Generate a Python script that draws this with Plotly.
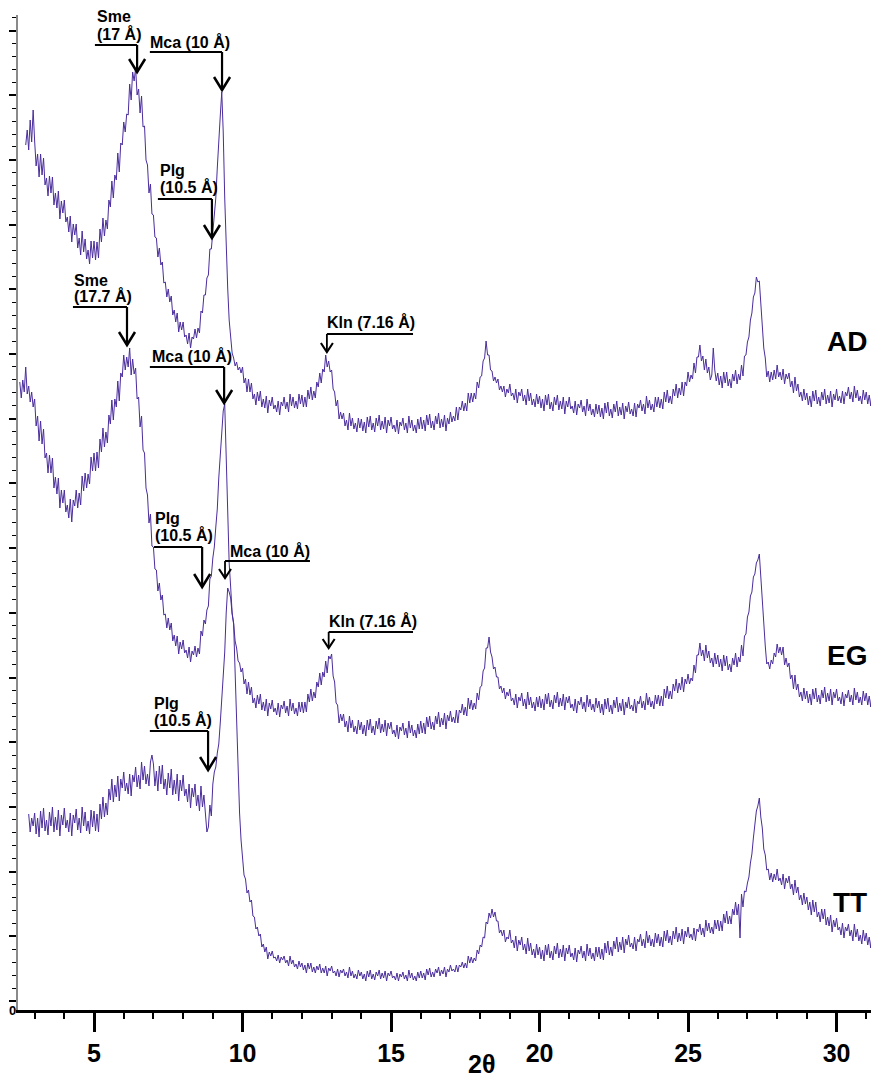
import numpy as np
import plotly.graph_objects as go

# ---------------- data (2θ step 0.05°, intensities in arbitrary offset units) ----------------
step = 0.05

ad_start = 2.7
ad_counts = [
    865, 880, 860, 890, 868, 900,
    869, 844, 856, 833, 856, 835, 852, 825, 832, 814, 834, 817, 833, 805, 817, 802, 819, 791, 809, 797,
    810, 788, 793, 778, 794, 768, 786, 775, 786, 762, 772, 755, 779, 758, 771, 751, 760, 746, 769, 752,
    769, 750, 768, 752, 781, 768, 792, 774, 790, 781, 810, 803, 829, 812, 835, 830, 857, 838, 867, 865,
    888, 878, 896, 895, 926, 910, 938, 929, 942, 915, 921, 897, 914, 883, 884, 850, 845, 817, 826, 796,
    795, 773, 772, 753, 762, 745, 748, 727, 728, 713, 721, 708, 714, 695, 700, 688, 697, 678, 688, 680,
    688, 673, 675, 666, 677, 662, 673, 671, 681, 672, 682, 677, 699, 697, 715, 715, 732, 735, 761, 761,
    778, 793, 812, 842, 863, 894, 918, 878, 812, 757, 722, 690, 674, 657, 652, 644, 648, 640, 643, 637,
    643, 627, 632, 618, 631, 618, 627, 611, 616, 605, 618, 609, 619, 603, 611, 602, 614, 597, 610, 604,
    613, 601, 605, 598, 609, 595, 608, 604, 613, 601, 608, 598, 616, 604, 613, 602, 609, 601, 616, 606,
    615, 603, 613, 603, 620, 611, 623, 610, 619, 612, 628, 623, 637, 627, 641, 638, 655, 643, 649, 638,
    640, 621, 618, 604, 610, 591, 598, 591, 597, 584, 590, 580, 597, 584, 592, 581, 587, 578, 592, 582,
    591, 579, 588, 577, 593, 583, 594, 580, 587, 578, 592, 584, 595, 580, 589, 581, 593, 577, 590, 584,
    593, 581, 585, 578, 590, 576, 588, 584, 592, 580, 587, 577, 594, 582, 590, 579, 585, 577, 591, 581,
    593, 581, 590, 579, 595, 585, 596, 582, 589, 580, 594, 586, 597, 582, 591, 583, 595, 579, 592, 586,
    598, 588, 594, 589, 603, 590, 603, 600, 609, 599, 607, 599, 617, 607, 617, 608, 617, 611, 628, 622,
    633, 634, 649, 652, 669, 655, 655, 640, 639, 629, 633, 627, 631, 620, 624, 618, 624, 613, 621, 617,
    626, 614, 617, 610, 621, 607, 618, 614, 621, 609, 615, 605, 621, 609, 617, 605, 611, 603, 616, 606,
    614, 602, 611, 599, 615, 605, 616, 601, 608, 599, 613, 605, 615, 600, 609, 601, 613, 596, 609, 603,
    613, 601, 604, 597, 609, 595, 606, 602, 610, 598, 604, 594, 611, 599, 606, 595, 601, 593, 606, 596,
    605, 593, 602, 591, 607, 597, 608, 594, 601, 592, 606, 598, 609, 594, 603, 595, 607, 591, 604, 598,
    608, 596, 601, 594, 607, 593, 606, 602, 610, 599, 606, 596, 614, 602, 610, 600, 606, 598, 613, 603,
    613, 602, 611, 601, 618, 608, 620, 607, 614, 606, 621, 614, 626, 612, 622, 615, 628, 614, 628, 624,
    638, 628, 635, 631, 647, 637, 653, 653, 665, 649, 654, 640, 651, 637, 643, 630, 635, 662, 640, 629,
    637, 625, 634, 622, 638, 627, 638, 624, 631, 622, 636, 629, 640, 626, 636, 630, 645, 634, 654, 655,
    668, 673, 690, 697, 713, 717, 733, 728, 729, 707, 692, 662, 652, 633, 639, 628, 638, 630, 640, 631,
    645, 633, 638, 630, 641, 626, 636, 631, 637, 623, 629, 617, 633, 619, 626, 613, 618, 609, 621, 610,
    617, 605, 614, 603, 619, 609, 620, 606, 613, 604, 618, 610, 621, 606, 615, 607, 619, 603, 616, 610,
    621, 609, 614, 607, 619, 606, 618, 614, 623, 611, 618, 608, 624, 612, 620, 609, 614, 606, 620, 610,
    618, 606, 615, 604, 620, 610, 621, 607, 614,
]

eg_start = 2.5
eg_counts = [
    628, 612, 630, 618, 643, 616, 624, 608, 618, 603,
    611, 584, 594, 569, 589, 566, 581, 552, 557, 537, 555, 537, 552, 522, 533, 516, 532, 502, 520, 507,
    520, 498, 505, 492, 511, 488, 510, 504, 520, 502, 517, 505, 534, 519, 537, 522, 536, 526, 553, 539,
    557, 539, 558, 542, 571, 558, 582, 563, 578, 567, 595, 586, 610, 590, 611, 603, 629, 609, 637, 633,
    655, 640, 653, 643, 662, 635, 651, 636, 642, 611, 613, 583, 594, 560, 557, 522, 515, 487, 496, 464,
    463, 441, 440, 419, 427, 410, 415, 395, 396, 382, 392, 380, 387, 369, 375, 364, 374, 356, 368, 361,
    370, 357, 360, 352, 363, 348, 359, 355, 364, 353, 362, 356, 379, 374, 390, 386, 400, 404, 431, 434,
    452, 463, 483, 501, 532, 553, 582, 599, 606, 557, 492, 447, 423, 397, 387, 369, 362, 349, 347, 338,
    342, 326, 331, 316, 328, 315, 323, 307, 312, 302, 315, 306, 316, 300, 308, 299, 311, 294, 307, 301,
    310, 298, 302, 295, 307, 293, 305, 301, 309, 297, 304, 294, 311, 299, 307, 296, 302, 294, 308, 298,
    308, 297, 308, 298, 316, 308, 321, 309, 318, 312, 328, 323, 337, 325, 338, 333, 349, 337, 354, 351,
    356, 334, 328, 307, 305, 287, 296, 289, 296, 283, 289, 278, 294, 282, 290, 278, 284, 276, 290, 280,
    288, 276, 285, 274, 290, 280, 291, 277, 284, 275, 289, 281, 292, 277, 286, 278, 290, 274, 287, 281,
    288, 276, 280, 273, 285, 271, 283, 279, 287, 275, 282, 272, 289, 277, 285, 274, 280, 272, 286, 276,
    289, 277, 287, 276, 293, 283, 294, 281, 288, 280, 294, 286, 298, 283, 292, 285, 297, 281, 295, 289,
    299, 288, 293, 287, 300, 287, 300, 297, 306, 295, 303, 294, 312, 301, 310, 300, 307, 301, 317, 310,
    323, 324, 339, 342, 362, 362, 373, 358, 353, 341, 343, 333, 333, 321, 324, 317, 322, 311, 318, 314,
    321, 309, 312, 305, 316, 302, 313, 309, 317, 304, 311, 301, 318, 305, 313, 302, 308, 299, 313, 303,
    314, 302, 311, 300, 316, 306, 317, 303, 310, 301, 315, 307, 318, 303, 312, 304, 316, 300, 313, 307,
    314, 302, 306, 299, 311, 297, 309, 305, 313, 301, 308, 298, 315, 303, 311, 300, 306, 298, 312, 302,
    309, 297, 306, 295, 311, 301, 312, 298, 305, 296, 310, 302, 313, 298, 307, 299, 311, 295, 308, 302,
    313, 301, 305, 299, 311, 297, 309, 306, 314, 302, 309, 300, 317, 305, 313, 303, 309, 301, 315, 306,
    315, 304, 314, 304, 321, 312, 324, 311, 319, 311, 326, 319, 331, 317, 327, 320, 333, 318, 331, 326,
    336, 326, 332, 329, 345, 337, 355, 355, 367, 354, 360, 349, 365, 352, 359, 347, 352, 343, 357, 346,
    355, 343, 351, 339, 355, 344, 354, 340, 346, 338, 352, 345, 357, 343, 353, 348, 365, 354, 374, 376,
    393, 398, 414, 418, 433, 436, 447, 450, 456, 430, 412, 382, 364, 346, 348, 341, 350, 346, 357, 353,
    366, 357, 363, 355, 363, 345, 352, 343, 347, 331, 335, 321, 335, 320, 326, 313, 318, 309, 322, 311,
    319, 307, 316, 305, 321, 311, 322, 308, 315, 306, 320, 312, 323, 308, 317, 309, 321, 305, 318, 312,
    321, 309, 313, 306, 318, 304, 316, 312, 320, 308, 315, 305, 322, 310, 318, 307, 313, 305, 319, 309,
    317, 305, 314, 303, 319, 309, 320, 306, 313,
]

tt_start = 2.8
tt_counts = [
    196, 178, 192, 184,
    197, 176, 192, 173, 199, 182, 202, 179, 190, 175, 198, 184, 203, 178, 193, 180, 200, 174, 195, 185,
    202, 182, 190, 178, 197, 174, 195, 187, 201, 180, 192, 177, 203, 184, 198, 179, 189, 176, 200, 183,
    199, 179, 196, 178, 206, 191, 213, 193, 207, 195, 221, 210, 231, 208, 225, 213, 234, 209, 231, 222,
    238, 219, 227, 216, 236, 214, 235, 228, 243, 223, 235, 221, 248, 230, 244, 226, 236, 224, 248, 255,
    246, 224, 239, 219, 244, 226, 245, 221, 231, 215, 237, 222, 241, 215, 230, 216, 236, 209, 230, 219,
    235, 214, 221, 208, 226, 202, 222, 213, 226, 204, 215, 199, 224, 203, 215, 194, 178, 183, 205, 194,
    226, 238, 243, 257, 266, 287, 308, 337, 358, 397, 422, 418, 412, 396, 386, 338, 287, 238, 197, 170,
    151, 135, 131, 117, 120, 108, 110, 94, 93, 81, 83, 74, 76, 63, 66, 58, 63, 51, 58, 54,
    59, 52, 53, 49, 55, 47, 53, 50, 54, 47, 50, 44, 54, 46, 50, 43, 46, 41, 49, 43,
    47, 40, 45, 37, 47, 41, 47, 38, 43, 37, 44, 40, 46, 37, 42, 37, 44, 34, 42, 39,
    44, 37, 39, 34, 41, 33, 40, 37, 41, 34, 38, 32, 43, 34, 39, 32, 36, 31, 40, 34,
    38, 31, 36, 29, 39, 33, 40, 31, 36, 30, 38, 34, 40, 31, 37, 32, 39, 29, 37, 34,
    39, 32, 34, 30, 37, 29, 36, 33, 38, 31, 35, 29, 40, 32, 37, 30, 34, 29, 38, 32,
    39, 32, 37, 30, 41, 35, 42, 33, 38, 33, 41, 37, 43, 34, 40, 36, 43, 33, 41, 38,
    45, 39, 41, 38, 45, 38, 45, 43, 48, 42, 47, 42, 54, 47, 53, 47, 52, 49, 60, 56,
    65, 63, 73, 72, 88, 86, 97, 92, 101, 93, 98, 89, 89, 77, 80, 74, 80, 68, 73, 71,
    80, 67, 70, 62, 74, 59, 70, 65, 73, 60, 66, 56, 72, 59, 67, 55, 61, 52, 66, 55,
    63, 51, 60, 49, 65, 55, 66, 52, 59, 50, 64, 56, 67, 52, 61, 53, 65, 49, 62, 56,
    65, 53, 57, 50, 62, 48, 60, 56, 64, 52, 59, 49, 66, 54, 62, 51, 57, 49, 63, 53,
    63, 51, 61, 50, 67, 57, 69, 55, 63, 54, 69, 61, 73, 58, 68, 60, 73, 57, 71, 65,
    75, 63, 67, 61, 73, 59, 71, 68, 76, 64, 71, 62, 79, 67, 75, 64, 71, 63, 77, 67,
    76, 64, 73, 63, 79, 69, 80, 67, 74, 65, 79, 71, 83, 68, 77, 69, 81, 66, 79, 73,
    83, 72, 76, 70, 82, 69, 81, 78, 86, 75, 82, 73, 90, 79, 87, 77, 83, 76, 90, 81,
    90, 79, 89, 79, 96, 87, 99, 86, 94, 86, 101, 95, 108, 95, 106, 72, 116, 103, 119, 118,
    127, 133, 147, 156, 172, 183, 199, 204, 212, 193, 182, 161, 155, 140, 141, 130, 137, 128, 136, 130,
    141, 129, 132, 125, 136, 121, 132, 127, 134, 121, 126, 115, 130, 117, 123, 110, 115, 105, 117, 106,
    113, 100, 108, 95, 110, 98, 108, 93, 98, 88, 101, 91, 101, 85, 93, 84, 95, 78, 90, 83,
    92, 80, 83, 75, 87, 72, 83, 79, 86, 74, 80, 69, 86, 73, 81, 69, 75, 66, 80, 69,
    77, 65, 73, 62, 78, 67, 78, 64, 71,
]

sample_names = ["AD", "EG", "TT"]
sample_label_pos = [(31.08, 669), (31.08, 355), (31.08, 108)]

x_ticks = [5, 10, 15, 20, 25, 30]
x_title = "2θ"

# peak annotations: text lines, text x, text y per line, horizontal line (x_a, x_b, y), arrow tip (x, y), size
peak_text = [
    ["Sme", "(17 Å)"], ["Mca (10 Å)"], ["Plg", "(10.5 Å)"], ["Kln (7.16 Å)"],
    ["Sme", "(17.7 Å)"], ["Mca (10 Å)"], ["Plg", "(10.5 Å)"], ["Mca (10 Å)"],
    ["Kln (7.16 Å)"], ["Plg", "(10.5 Å)"],
]
peak_text_x = [5.03, 6.82, 7.15, 12.78, 4.26, 6.88, 6.99, 9.51, 12.84, 6.95]
peak_text_y = [[994, 976], [968], [840, 823], [688], [730, 714], [654],
               [492, 475], [459], [389], [307, 290]]
peak_line = [(5.03, 6.45, 965), (6.88, 9.31, 958), (7.15, 8.97, 811), (12.84, 15.74, 676),
             (4.29, 6.11, 703), (6.88, 9.38, 643), (7.02, 8.64, 463), (9.41, 12.27, 449),
             (12.90, 15.74, 378), (6.88, 8.84, 279)]
peak_tip = [(6.45, 938), (9.31, 920), (8.97, 772), (12.84, 658),
            (6.11, 665), (9.38, 607), (8.64, 423), (9.41, 432),
            (12.90, 362), (8.84, 240)]
peak_big = [True, True, True, False, True, True, True, False, False, True]

# ---------------- figure ----------------
line_color = "#4a2d9c"
FONT = "Liberation Sans, Arial, sans-serif"
x_range = [2.44, 31.16]
y_range = [0, 995]
plot_w_px = 853
plot_h_px = 995
px_per_x = plot_w_px / (x_range[1] - x_range[0])

fig = go.Figure()
for start, counts, name in [(ad_start, ad_counts, "AD"), (eg_start, eg_counts, "EG"), (tt_start, tt_counts, "TT")]:
    xs = np.round(start + step * np.arange(len(counts)), 3)
    fig.add_trace(go.Scatter(x=xs, y=counts, mode="lines", name=name,
                             line=dict(color=line_color, width=1), showlegend=False,
                             hoverinfo="skip"))

shapes = []
annotations = []
for lines, tx, tys, (xa, xb, yl), (xt, yt), big in zip(peak_text, peak_text_x, peak_text_y,
                                                        peak_line, peak_tip, peak_big):
    for txt, ty in zip(lines, tys):
        annotations.append(dict(x=tx, y=ty, xref="x", yref="y", text=txt, showarrow=False,
                                xanchor="left", yanchor="middle",
                                font=dict(family=FONT, size=16, color="black", weight="bold")))
    w = 2.2 if big else 1.8
    shapes.append(dict(type="path", xref="x", yref="y",
                       path=f"M {xa},{yl} L {xb},{yl} M {xt},{yl} L {xt},{yt}",
                       line=dict(color="black", width=w)))
    dxp = 8 if big else 6
    dy = 13 if big else 9
    dx = dxp / px_per_x
    shapes.append(dict(type="path", xref="x", yref="y",
                       path=f"M {xt - dx},{yt + dy} L {xt},{yt} L {xt + dx},{yt + dy}",
                       line=dict(color="black", width=w + 0.3)))

for name, (lx, ly) in zip(sample_names, sample_label_pos):
    annotations.append(dict(x=lx, y=ly, xref="x", yref="y", text=name, showarrow=False,
                            xanchor="right", yanchor="middle",
                            font=dict(family=FONT, size=28, color="black", weight="bold")))

# axis title and origin label (paper coordinates, below/left of the plot area)
annotations.append(dict(x=(481 - 18) / plot_w_px, y=-54 / plot_h_px,
                        xref="paper", yref="paper", text=x_title, showarrow=False,
                        xanchor="center", yanchor="middle",
                        font=dict(family=FONT, size=25, color="black", weight="bold")))
annotations.append(dict(x=-6 / plot_w_px, y=0, xref="paper", yref="paper", text="0",
                        showarrow=False, xanchor="center", yanchor="middle",
                        font=dict(family=FONT, size=13, color="black", weight="bold")))

fig.update_layout(
    width=863, height=1072,
    margin=dict(l=10, r=0, t=7, b=70),
    plot_bgcolor="white", paper_bgcolor="white",
    shapes=shapes, annotations=annotations,
    xaxis=dict(range=x_range, showgrid=False, zeroline=False,
               showline=True, linecolor="black", linewidth=3,
               tickmode="array", tickvals=x_ticks, ticktext=[str(v) for v in x_ticks],
               ticks="outside", ticklen=19, tickwidth=3, tickcolor="black",
               tickfont=dict(family=FONT, size=25, color="black", weight="bold"),
               minor=dict(dtick=1, tick0=0, ticks="outside", ticklen=6, tickwidth=1.5,
                          tickcolor="black", showgrid=False)),
    yaxis=dict(range=y_range, showgrid=False, zeroline=False,
               showline=True, linecolor="#8a8a8a", linewidth=2,
               showticklabels=False,
               tickmode="linear", tick0=9, dtick=64.7,
               ticks="outside", ticklen=7, tickwidth=1.5, tickcolor="black",
               minor=dict(dtick=12.94, tick0=9, ticks="outside", ticklen=4, tickwidth=1.2,
                          tickcolor="black", showgrid=False)),
)

fig.write_html("out.html")
